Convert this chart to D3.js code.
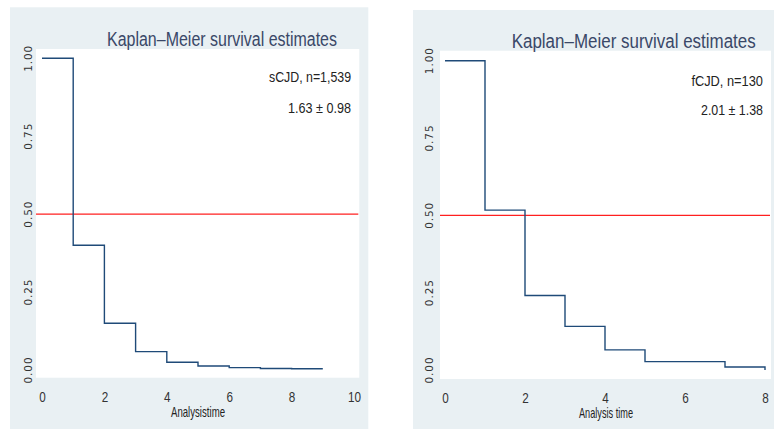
<!DOCTYPE html>
<html><head><meta charset="utf-8">
<script src="https://cdn.jsdelivr.net/npm/d3@7"></script>
<style>body{margin:0;background:#fff}svg{display:block}</style>
</head><body>
<svg id="chart" width="774" height="430"></svg>
<script>
// ---- data ----
const titleText = "Kaplan\u2013Meier survival estimates";
const yTicks = [0, 0.25, 0.5, 0.75, 1];
const medianLine = 0.5;

const leftTimes = [0, 1, 2, 3, 4, 5, 6, 7, 8, 9];
const leftSurv  = [1.00, 0.40, 0.15, 0.059, 0.025, 0.013, 0.0075, 0.005, 0.004, 0.004];
const leftXTicks = [0, 2, 4, 6, 8, 10];
const leftLabel = ["sCJD, n=1,539", "1.63 \u00b1 0.98"];
const leftXTitle = "Analysistime";

const rightTimes = [0, 1, 2, 3, 4, 5, 7, 8];
const rightSurv  = [1.00, 0.517, 0.241, 0.141, 0.065, 0.027, 0.0097, 0.0];
const rightXTicks = [0, 2, 4, 6, 8];
const rightLabel = ["fCJD, n=130", "2.01 \u00b1 1.38"];
const rightXTitle = "Analysis time";

// ---- layout ----
const panels = [
  { times: leftTimes, surv: leftSurv, xTicks: leftXTicks, xMax: 10, label: leftLabel, xName: leftXTitle,
    bg: [10, 7.3, 368.3, 429], plot: [36, 49, 359.3, 377.7], x0: 42, x1: 354, y0: 370, y1: 58.3,
    title: { x: 222, y: 45.5, w: 230 }, ann: { x: 351, y: [82, 113.3], w: [82, 63] },
    yLabX: 28, xLabY: 402, xPos: { x: 198, y: 417, w: 54 } },
  { times: rightTimes, surv: rightSurv, xTicks: rightXTicks, xMax: 8, label: rightLabel, xName: rightXTitle,
    bg: [413, 10, 774, 429], plot: [440, 50.7, 771, 379], x0: 445, x1: 765, y0: 370, y1: 60.7,
    title: { x: 633.7, y: 48.3, w: 244 }, ann: { x: 763, y: [85.7, 115], w: [71.6, 62] },
    yLabX: 429, xLabY: 402.5, xPos: { x: 606, y: 418, w: 54 } }
];

const svg = d3.select("#chart");
const bgCol = "#e9f0f3", lineCol = "#1f4a78", red = "#ff2020", txt = "#333", titleCol = "#3a4868";
const narrow = "'Liberation Sans', Arial, sans-serif";

function condense(sel, f) {
  sel.each(function () {
    const w = this.getComputedTextLength();
    d3.select(this).attr("textLength", w * f).attr("lengthAdjust", "spacingAndGlyphs");
  });
}

panels.forEach(p => {
  const g = svg.append("g");
  g.append("rect").attr("x", p.bg[0]).attr("y", p.bg[1])
    .attr("width", p.bg[2] - p.bg[0]).attr("height", p.bg[3] - p.bg[1]).attr("fill", bgCol);
  g.append("rect").attr("x", p.plot[0]).attr("y", p.plot[1])
    .attr("width", p.plot[2] - p.plot[0]).attr("height", p.plot[3] - p.plot[1]).attr("fill", "#fff");

  const x = d3.scaleLinear().domain([0, p.xMax]).range([p.x0, p.x1]);
  const y = d3.scaleLinear().domain([0, 1]).range([p.y0, p.y1]);

  // y axis
  const ya = g.append("g").attr("transform", `translate(${p.yLabX},0)`)
    .call(d3.axisLeft(y).tickValues(yTicks).tickFormat(d3.format(".2f")).tickSize(0).tickPadding(0));
  ya.select(".domain").remove();
  ya.selectAll(".tick").attr("transform", null);
  ya.selectAll("text").attr("x", 0).attr("y", 0).attr("dy", null)
    .attr("text-anchor", "middle").attr("dominant-baseline", "central")
    .attr("fill", txt).style("font-family", "'DejaVu Sans', sans-serif").style("font-size", "10.5px")
    .style("letter-spacing", "0.9px")
    .attr("transform", d => `translate(0,${y(d)}) rotate(-90)`);

  // x axis
  const xa = g.append("g").attr("transform", `translate(0,${p.xLabY})`)
    .call(d3.axisBottom(x).tickValues(p.xTicks).tickFormat(d3.format("d")).tickSize(0).tickPadding(0));
  xa.select(".domain").remove();
  xa.selectAll("text").attr("dy", null).attr("y", 0).attr("fill", txt)
    .style("font-family", narrow).style("font-size", "15px");
  condense(xa.selectAll("text"), 0.78);

  // median reference line
  g.append("line").attr("x1", p.plot[0]).attr("x2", p.plot[2] - 1)
    .attr("y1", y(medianLine)).attr("y2", y(medianLine))
    .attr("stroke", red).attr("stroke-width", 1.4);

  // KM step curve
  const pts = p.times.map((t, i) => [t, p.surv[i]]);
  g.append("path").datum(pts)
    .attr("d", d3.line().x(d => x(d[0])).y(d => y(d[1])).curve(d3.curveStepAfter))
    .attr("fill", "none").attr("stroke", lineCol).attr("stroke-width", 1.4);

  // title
  g.append("text").attr("x", p.title.x).attr("y", p.title.y).attr("text-anchor", "middle")
    .attr("fill", titleCol).style("font-family", narrow).style("font-size", "19.5px")
    .attr("textLength", p.title.w).attr("lengthAdjust", "spacingAndGlyphs").text(titleText);

  // annotations
  p.label.forEach((s, i) => {
    g.append("text").attr("x", p.ann.x).attr("y", p.ann.y[i]).attr("text-anchor", "end")
      .attr("fill", "#222").style("font-family", narrow).style("font-size", "15px")
      .attr("textLength", p.ann.w[i]).attr("lengthAdjust", "spacingAndGlyphs").text(s);
  });

  // x title
  g.append("text").attr("x", p.xPos.x).attr("y", p.xPos.y).attr("text-anchor", "middle")
    .attr("fill", "#222").style("font-family", narrow).style("font-size", "14.5px")
    .attr("textLength", p.xPos.w).attr("lengthAdjust", "spacingAndGlyphs").text(p.xName);
});
</script>
</body></html>
